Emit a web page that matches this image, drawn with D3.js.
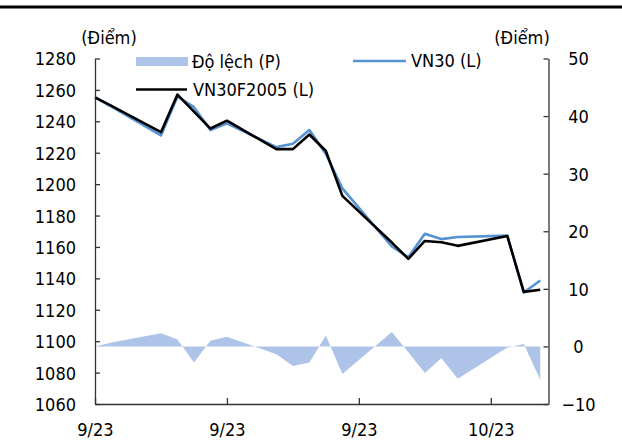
<!DOCTYPE html>
<html>
<head>
<meta charset="utf-8">
<script src="https://cdn.jsdelivr.net/npm/d3@7"></script>
<style>
  body { margin: 0; background: #fff; }
  svg text { font-family: "DejaVu Sans Condensed", "DejaVu Sans", sans-serif; fill: #000; }
</style>
</head>
<body>
<div class="container"></div>
<script>
// ngày giao dịch (số ngày tính từ điểm đầu trục)
const dayIdx = [0, 1, 4, 5, 6, 7, 8, 11, 12, 13, 14, 15, 18, 19, 20, 21, 22, 25, 26, 27]
const vn30 = [1255.3, 1249.3, 1231.0, 1255.8, 1249.0, 1234.4, 1238.7, 1223.6, 1225.7, 1234.4,
              1219.2, 1197.3, 1160.3, 1153.4, 1168.4, 1165.0, 1166.3, 1167.2, 1131.0, 1138.6]
const vn30f = [1255.3, 1249.8, 1233.1, 1257.0, 1246.2, 1235.4, 1240.4, 1222.3, 1222.3, 1231.6,
               1221.1, 1192.5, 1162.8, 1152.4, 1163.8, 1163.0, 1160.7, 1167.0, 1131.4, 1132.8]
const doLech = [0, 0.7, 2.3, 1.2, -2.8, 1.0, 1.7, -1.35, -3.4, -2.8,
                1.9, -4.8, 2.5, -1.0, -4.6, -2.0, -5.6, -0.2, 0.4, -5.8]
const xTickDays = [0, 8, 16, 24]
const xTickLabels = ['9/23', '9/23', '9/23', '10/23']
const leftTicks = [1060, 1080, 1100, 1120, 1140, 1160, 1180, 1200, 1220, 1240, 1260, 1280]
const rightTicks = [-10, 0, 10, 20, 30, 40, 50]

const w = 622
const h = 443
const plot = { left: 95, right: 548.5, top: 58.5, bottom: 404 }

const svg = d3.select('.container')
              .append('svg')
              .attr('width', w)
              .attr('height', h)

// đường kẻ trên cùng
svg.append('rect')
   .attr('x', 0)
   .attr('y', 5.5)
   .attr('width', w)
   .attr('height', 3)
   .attr('fill', '#000')

// thang đo
const xScale = d3.scaleLinear().domain([0, 27.5]).range([plot.left, plot.right])
const yLeft = d3.scaleLinear().domain([1060, 1280]).range([plot.bottom, plot.top])
const yRight = d3.scaleLinear().domain([-10, 50]).range([plot.bottom, plot.top])

const rows = dayIdx.map((d, i) => ({ day: d, vn30: vn30[i], vn30f: vn30f[i], dev: doLech[i] }))

// vùng độ lệch
svg.append('path')
   .datum(rows)
   .attr('fill', '#adc3e7')
   .attr('d', d3.area()
                .x((d) => xScale(d.day))
                .y0(yRight(0))
                .y1((d) => yRight(d.dev)))

svg.append('path')
   .datum(rows)
   .attr('fill', 'none')
   .attr('stroke', '#5592d2')
   .attr('stroke-width', 2.6)
   .attr('stroke-linejoin', 'round')
   .attr('d', d3.line().x((d) => xScale(d.day)).y((d) => yLeft(d.vn30)))

svg.append('path')
   .datum(rows)
   .attr('fill', 'none')
   .attr('stroke', '#000')
   .attr('stroke-width', 2.6)
   .attr('stroke-linejoin', 'round')
   .attr('d', d3.line().x((d) => xScale(d.day)).y((d) => yLeft(d.vn30f)))

// trục
const xAxis = d3.axisBottom(xScale)
                .tickValues(xTickDays)
                .tickFormat((d, i) => xTickLabels[i])
                .tickSize(-6)
                .tickSizeOuter(0)
const leftAxis = d3.axisLeft(yLeft).tickValues(leftTicks).tickFormat(d3.format('d')).tickSize(-5).tickSizeOuter(0).tickPadding(19)
const rightAxis = d3.axisRight(yRight).tickValues(rightTicks).tickFormat(d3.format('d')).tickSize(-5).tickSizeOuter(0)

svg.append('g')
   .attr('class', 'y-left')
   .attr('transform', 'translate(' + plot.left + ',0)')
   .call(leftAxis)

svg.append('g')
   .attr('class', 'y-right')
   .attr('transform', 'translate(' + plot.right + ',0)')
   .call(rightAxis)

svg.append('g')
   .attr('class', 'x-axis')
   .attr('transform', 'translate(0,' + plot.bottom + ')')
   .call(xAxis)

svg.selectAll('.domain, .tick line')
   .attr('stroke', '#333')
   .attr('stroke-width', 1.3)

svg.selectAll('.tick text')
   .attr('font-size', 18)
   .style('font-family', '"DejaVu Sans Condensed", "DejaVu Sans", sans-serif')

svg.select('.y-left').selectAll('.tick text').attr('dy', '0.36em')
svg.select('.y-right').selectAll('.tick text')
   .attr('x', 30)
   .attr('dy', '0.36em')
   .attr('text-anchor', 'middle')
svg.select('.x-axis').selectAll('.tick text')
   .attr('y', 32)
   .attr('dy', 0)

// đơn vị
svg.append('text').attr('x', 109).attr('y', 44).attr('text-anchor', 'middle').attr('font-size', 18).text('(Điểm)')
svg.append('text').attr('x', 522).attr('y', 44).attr('text-anchor', 'middle').attr('font-size', 18).text('(Điểm)')

// chú thích
const legend = svg.append('g').attr('class', 'legend')
legend.append('rect')
      .attr('x', 136).attr('y', 57).attr('width', 52).attr('height', 9)
      .attr('fill', '#adc3e7')
legend.append('text').attr('x', 192).attr('y', 68).attr('font-size', 18).text('Độ lệch (P)')
legend.append('line')
      .attr('x1', 353).attr('x2', 406).attr('y1', 61).attr('y2', 61)
      .attr('stroke', '#5592d2').attr('stroke-width', 2.6)
legend.append('text').attr('x', 411).attr('y', 67).attr('font-size', 18).text('VN30 (L)')
legend.append('line')
      .attr('x1', 136).attr('x2', 187).attr('y1', 89.5).attr('y2', 89.5)
      .attr('stroke', '#000').attr('stroke-width', 2.6)
legend.append('text').attr('x', 193).attr('y', 96).attr('font-size', 18).text('VN30F2005 (L)')
</script>
</body>
</html>
